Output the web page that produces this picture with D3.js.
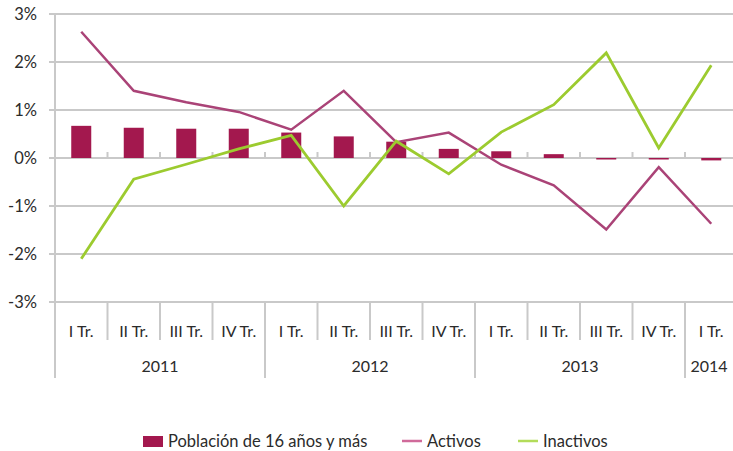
<!DOCTYPE html>
<html><head><meta charset="utf-8">
<script src="https://cdn.jsdelivr.net/npm/d3@7"></script>
<style>body{margin:0;background:#fff}text{font-family:Lato,"Open Sans",sans-serif;fill:#2b2b2b}</style>
</head><body><svg id="c" width="733" height="451"></svg>
<script>
const quarters = ["I Tr.","II Tr.","III Tr.","IV Tr.","I Tr.","II Tr.","III Tr.","IV Tr.","I Tr.","II Tr.","III Tr.","IV Tr.","I Tr."];
const years = [{label:"2011",n:4},{label:"2012",n:4},{label:"2013",n:4},{label:"2014",n:1}];
const poblacion = [0.67,0.63,0.61,0.61,0.53,0.45,0.34,0.19,0.14,0.08,-0.01,-0.01,-0.05];
const activos = [2.63,1.40,1.16,0.96,0.59,1.40,0.33,0.53,-0.14,-0.57,-1.49,-0.19,-1.37];
const inactivos = [-2.10,-0.44,-0.13,0.19,0.47,-1.0,0.35,-0.33,0.54,1.11,2.19,0.21,1.93];
const yTicks = [-3,-2,-1,0,1,2,3];

const svg = d3.select("#c");
const x = d3.scaleBand().domain(d3.range(quarters.length)).range([55, 55+13*52.5]).padding(0);
const y = d3.scaleLinear().domain([-3,3]).range([302,14]);
const grid = "#c9c9c9";

svg.append("g").selectAll("line").data(yTicks).join("line")
  .attr("x1",49).attr("x2",733).attr("y1",d=>y(d)).attr("y2",d=>y(d))
  .attr("stroke",grid).attr("stroke-width",2);
svg.append("g").selectAll("text").data(yTicks).join("text")
  .attr("x",37).attr("y",d=>y(d)+6).attr("text-anchor","end")
  .attr("font-size",16.5).text(d=>d+"%");
svg.append("line").attr("x1",55).attr("x2",55).attr("y1",14).attr("y2",378).attr("stroke",grid).attr("stroke-width",2);
svg.append("g").selectAll("line").data(d3.range(1,quarters.length)).join("line")
  .attr("x1",d=>x(d)).attr("x2",d=>x(d)).attr("y1",y(0)-6).attr("y2",y(0))
  .attr("stroke",grid).attr("stroke-width",2);
let yearStarts = []; let acc=0; years.forEach(yr=>{yearStarts.push(acc); acc+=yr.n;});
svg.append("g").selectAll("line").data(d3.range(1,quarters.length)).join("line")
  .attr("x1",d=>x(d)).attr("x2",d=>x(d)).attr("y1",y(-3)).attr("y2",d=>yearStarts.includes(d)?378:340)
  .attr("stroke",grid).attr("stroke-width",2);
svg.append("g").selectAll("text").data(quarters).join("text")
  .attr("x",(d,i)=>x(i)+x.bandwidth()/2).attr("y",337).attr("text-anchor","middle")
  .attr("font-size",16).text(d=>d);
svg.append("g").selectAll("text").data(years).join("text")
  .attr("x",(d,i)=>{const s=yearStarts[i]; const x0=x(s); const x1=Math.min(x(s+d.n-1)+x.bandwidth(),733); return (x0+x1)/2;})
  .attr("y",372).attr("text-anchor","middle").attr("font-size",16).text(d=>d.label);

const bw = 20;
svg.append("g").selectAll("rect").data(poblacion).join("rect")
  .attr("x",(d,i)=>x(i)+x.bandwidth()/2-bw/2).attr("width",bw)
  .attr("y",d=>y(Math.max(0,d))).attr("height",d=>Math.max(1.5,Math.abs(y(d)-y(0))))
  .attr("fill","#a3184e");
const line = d3.line().x((d,i)=>x(i)+x.bandwidth()/2).y(d=>y(d));
svg.append("path").datum(activos).attr("d",line).attr("fill","none").attr("stroke","#aa4377").attr("stroke-width",2.5);
svg.append("path").datum(inactivos).attr("d",line).attr("fill","none").attr("stroke","#9ccb2f").attr("stroke-width",2.8);

const lg = svg.append("g").attr("font-size",16.5);
lg.append("rect").attr("x",143).attr("y",436).attr("width",20).attr("height",11).attr("fill","#a3184e");
lg.append("text").attr("x",168).attr("y",447).text("Población de 16 años y más");
lg.append("line").attr("x1",402).attr("x2",422).attr("y1",441).attr("y2",441).attr("stroke","#d06a9a").attr("stroke-width",2.5);
lg.append("text").attr("x",427).attr("y",447).text("Activos");
lg.append("line").attr("x1",518).attr("x2",538).attr("y1",441).attr("y2",441).attr("stroke","#b3dc5a").attr("stroke-width",2.5);
lg.append("text").attr("x",543).attr("y",447).text("Inactivos");
</script></body></html>
